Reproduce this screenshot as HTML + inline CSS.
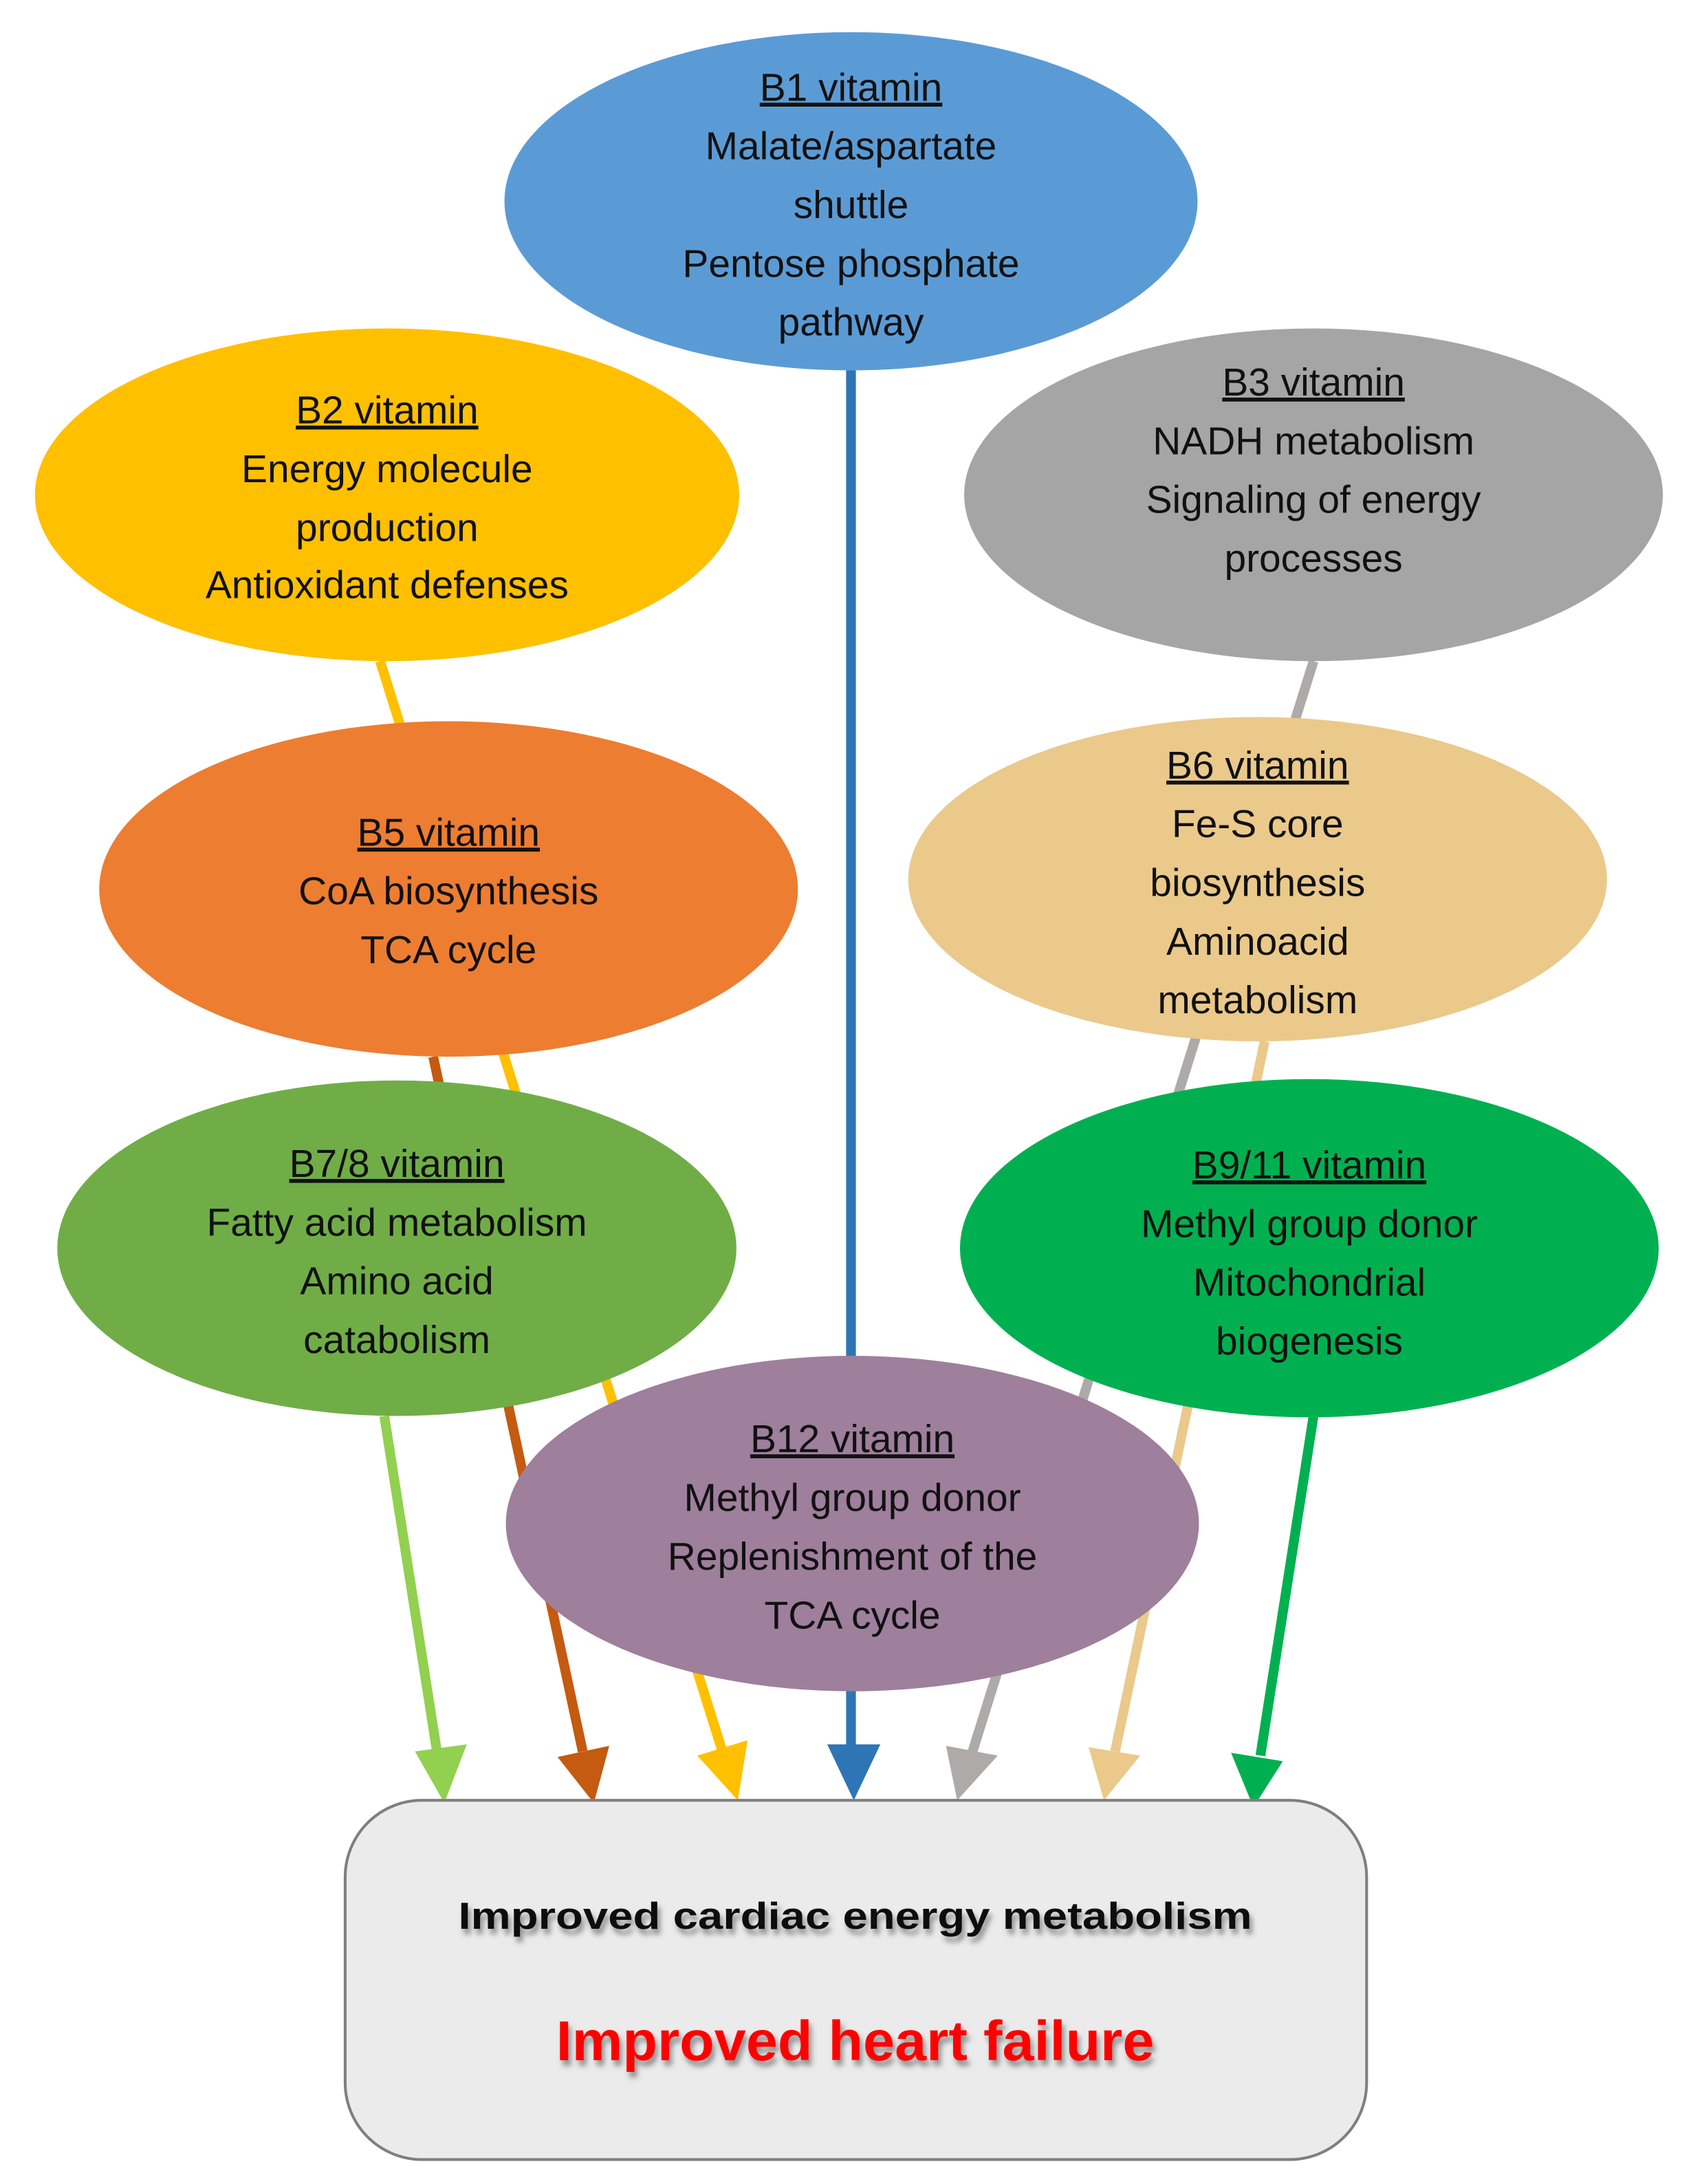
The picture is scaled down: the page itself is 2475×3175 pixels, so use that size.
<!DOCTYPE html>
<html><head><meta charset="utf-8"><style>
html,body{margin:0;padding:0;background:#fff;}
svg{display:block;}
text{font-family:"Liberation Sans",sans-serif;fill:#111;}
</style></head><body>
<svg width="2475" height="3175" viewBox="0 0 1218 1562.5" xmlns="http://www.w3.org/2000/svg">
<defs>
<filter id="sh" x="-10%" y="-30%" width="120%" height="160%"><feDropShadow dx="2" dy="4" stdDeviation="2" flood-color="#666" flood-opacity="0.7"/></filter>
</defs>
<rect width="1218" height="1562.5" fill="#fff"/>
<!-- arrows -->
<g stroke-width="7" fill="none">
<line x1="275" y1="1013" x2="313" y2="1255" stroke="#92D050"/>
<line x1="310" y1="756" x2="417" y2="1253" stroke="#C55A11"/>
<line x1="272" y1="473" x2="517" y2="1253" stroke="#FFC000"/>
<line x1="609" y1="265" x2="609" y2="1250" stroke="#2E75B6"/>
<line x1="940" y1="473" x2="696" y2="1253" stroke="#AEAAAA"/>
<line x1="905" y1="745" x2="798" y2="1253" stroke="#EAC98B"/>
<line x1="940" y1="1013" x2="902" y2="1256" stroke="#00B050"/>
</g>
<polygon points="318,1290 297,1253 334,1248" fill="#92D050"/>
<polygon points="425,1290 399,1257 436,1249" fill="#C55A11"/>
<polygon points="528,1288 499,1256 535,1245" fill="#FFC000"/>
<polygon points="611,1288 592,1248 630,1248" fill="#2E75B6"/>
<polygon points="685,1288 677,1249 714,1256" fill="#AEAAAA"/>
<polygon points="790,1288 779,1250 816,1256" fill="#EAC98B"/>
<polygon points="897,1293 881,1254 918,1260" fill="#00B050"/>
<!-- ellipses -->
<ellipse cx="609" cy="144" rx="248" ry="121" fill="#5B9BD5"/>
<ellipse cx="277" cy="354" rx="252" ry="119" fill="#FFC000"/>
<ellipse cx="940" cy="354" rx="250" ry="119" fill="#A5A5A5"/>
<ellipse cx="321" cy="636" rx="250" ry="120" fill="#ED7D31"/>
<ellipse cx="900" cy="629" rx="250" ry="116" fill="#EAC98B"/>
<ellipse cx="284" cy="893" rx="243" ry="120" fill="#70AD47"/>
<ellipse cx="937" cy="893" rx="250" ry="121" fill="#00B050"/>
<ellipse cx="610" cy="1090" rx="248" ry="120" fill="#9E7F9C"/>
<rect x="247" y="1288" width="731" height="257" rx="55" fill="#EBEBEB" stroke="#7F7F7F" stroke-width="2"/>
<g font-size="28" text-anchor="middle">
<text x="609" y="72" text-decoration="underline">B1 vitamin</text>
<text x="609" y="114">Malate/aspartate</text>
<text x="609" y="156">shuttle</text>
<text x="609" y="198">Pentose phosphate</text>
<text x="609" y="240">pathway</text>

<text x="277" y="303" text-decoration="underline">B2 vitamin</text>
<text x="277" y="345">Energy molecule</text>
<text x="277" y="387">production</text>
<text x="277" y="428">Antioxidant defenses</text>

<text x="940" y="283" text-decoration="underline">B3 vitamin</text>
<text x="940" y="325">NADH metabolism</text>
<text x="940" y="367">Signaling of energy</text>
<text x="940" y="409">processes</text>

<text x="321" y="605" text-decoration="underline">B5 vitamin</text>
<text x="321" y="647">CoA biosynthesis</text>
<text x="321" y="689">TCA cycle</text>

<text x="900" y="557" text-decoration="underline">B6 vitamin</text>
<text x="900" y="599">Fe-S core</text>
<text x="900" y="641">biosynthesis</text>
<text x="900" y="683">Aminoacid</text>
<text x="900" y="725">metabolism</text>

<text x="284" y="842" text-decoration="underline">B7/8 vitamin</text>
<text x="284" y="884">Fatty acid metabolism</text>
<text x="284" y="926">Amino acid</text>
<text x="284" y="968">catabolism</text>

<text x="937" y="843" text-decoration="underline">B9/11 vitamin</text>
<text x="937" y="885">Methyl group donor</text>
<text x="937" y="927">Mitochondrial</text>
<text x="937" y="969">biogenesis</text>

<text x="610" y="1039" text-decoration="underline">B12 vitamin</text>
<text x="610" y="1081">Methyl group donor</text>
<text x="610" y="1123">Replenishment of the</text>
<text x="610" y="1165">TCA cycle</text>
</g>
<text x="612" y="1380" font-size="27" font-weight="bold" text-anchor="middle" textLength="568" lengthAdjust="spacingAndGlyphs" filter="url(#sh)">Improved cardiac energy metabolism</text>
<text x="612" y="1474" font-size="40" font-weight="bold" text-anchor="middle" textLength="428" lengthAdjust="spacingAndGlyphs" style="fill:#FF0000" filter="url(#sh)">Improved heart failure</text>
</svg>
</body></html>
